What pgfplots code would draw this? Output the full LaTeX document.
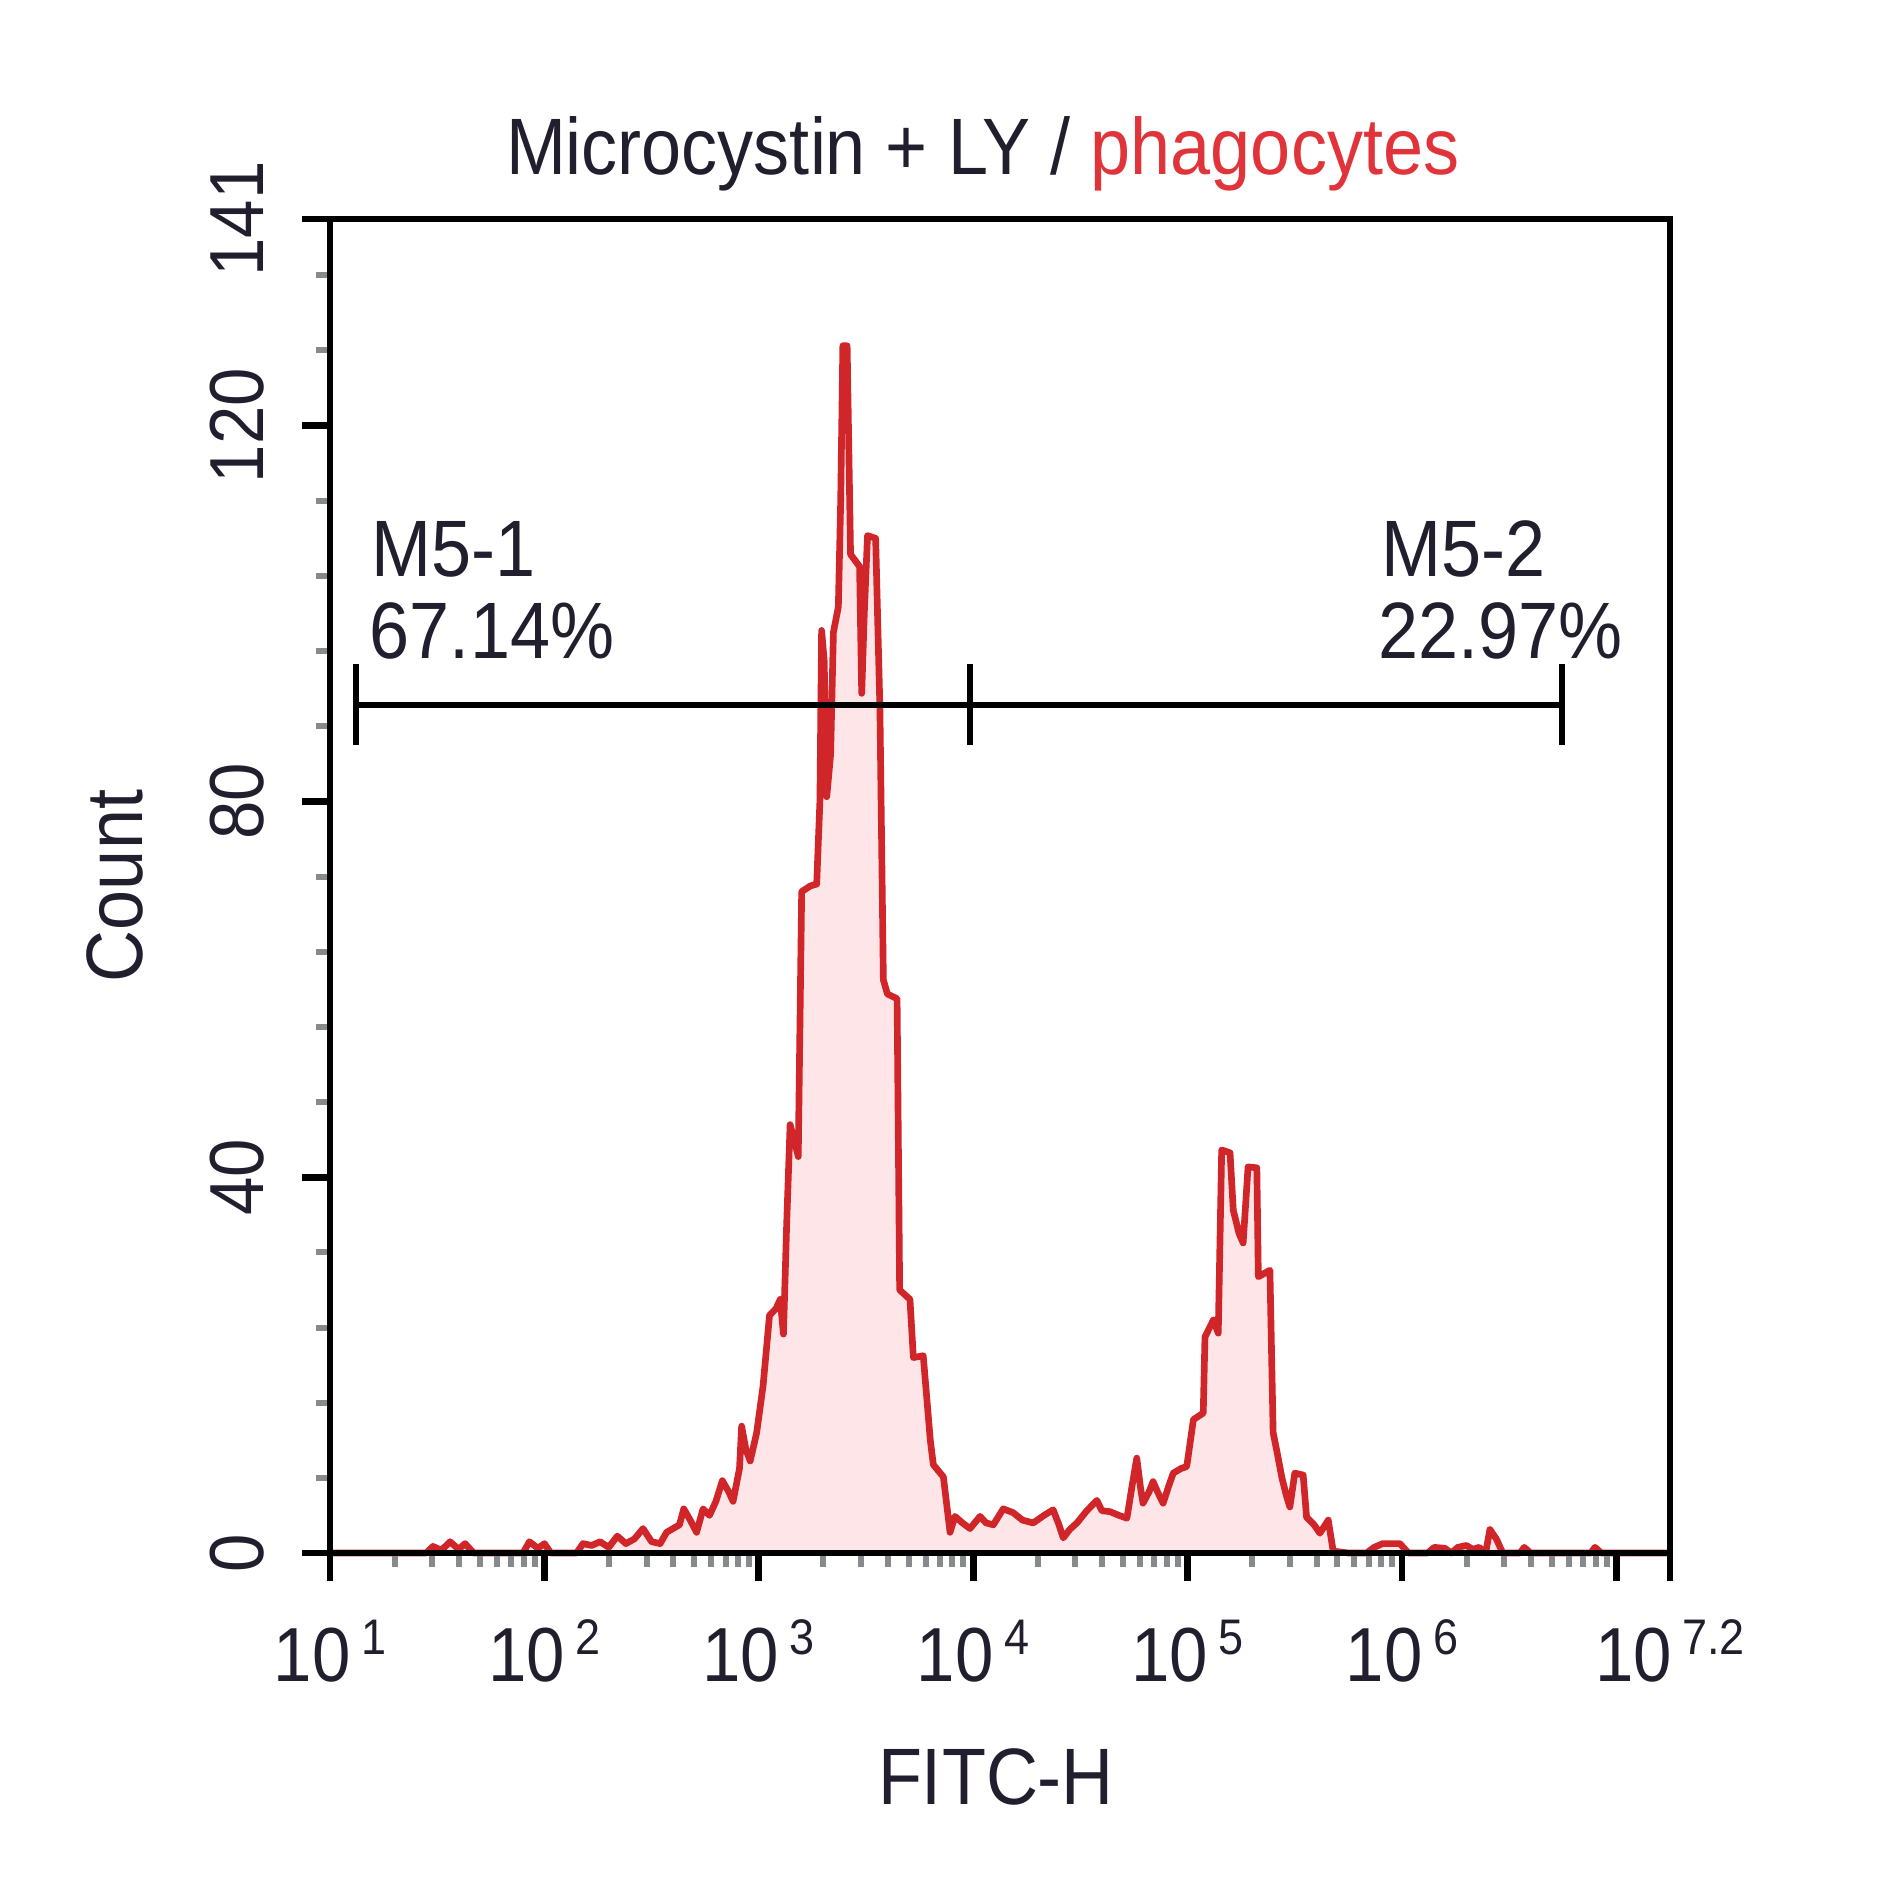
\documentclass[border=0pt]{standalone}
\usepackage{pgfplots}
\usepackage{pgfplotstable}
\pgfplotsset{compat=1.18}
\usepackage{fontspec}
\setmainfont{Liberation Sans}[FakeStretch=0.9]
\definecolor{txt}{RGB}{35,30,45}
\definecolor{curve}{RGB}{208,38,42}
\definecolor{fillc}{RGB}{253,229,232}
\definecolor{ttlred}{RGB}{224,52,58}
\definecolor{mtick}{RGB}{135,138,140}
\newcommand{\tl}[1]{10\hspace{1.6pt}\raisebox{4pt}{\fontsize{7.5}{8}\selectfont #1}}
\pgfplotstableread{
lx cnt
1.00 0
1.45 0
1.48 0.7
1.52 0.3
1.56 1.2
1.60 0.4
1.63 1.0
1.67 0
1.90 0
1.93 1.2
1.97 0.5
2.00 1.0
2.03 0
2.15 0
2.18 1.0
2.22 0.8
2.26 1.2
2.30 0.6
2.34 1.8
2.38 1.0
2.42 1.5
2.46 2.6
2.50 1.2
2.54 1.0
2.57 2.2
2.60 2.6
2.63 3.0
2.65 4.7
2.68 3.5
2.71 2.2
2.74 4.7
2.77 4.0
2.80 5.5
2.83 7.7
2.86 6.5
2.88 5.5
2.91 9.0
2.92 13.5
2.94 11.0
2.96 9.8
2.99 12.8
3.02 17.8
3.05 25.3
3.08 26.0
3.10 27.0
3.115 23.3
3.13 35.0
3.146 45.6
3.165 44.0
3.184 42.2
3.20 70.4
3.24 71.0
3.27 71.2
3.285 80.0
3.293 98.2
3.305 95.0
3.317 80.5
3.335 85.0
3.348 98.0
3.371 100.7
3.382 112.0
3.392 128.5
3.412 128.5
3.428 106.3
3.47 105.0
3.48 91.5
3.492 100.0
3.507 108.3
3.545 108.0
3.565 89.8
3.581 61.0
3.60 59.5
3.645 59.0
3.657 28.0
3.705 27.0
3.721 20.8
3.767 21.0
3.80 12.0
3.814 9.4
3.861 8.1
3.892 2.2
3.915 3.9
3.95 3.2
3.985 2.6
4.032 3.9
4.06 3.2
4.094 3.0
4.140 4.7
4.186 4.3
4.23 3.5
4.28 3.2
4.33 4.0
4.373 4.6
4.40 3.0
4.42 1.6
4.45 2.5
4.484 3.2
4.53 4.5
4.577 5.6
4.60 4.5
4.638 4.4
4.68 4.0
4.717 3.7
4.74 7.0
4.763 10.1
4.78 7.0
4.792 5.3
4.82 6.5
4.839 7.6
4.86 6.5
4.886 5.3
4.91 7.0
4.933 8.5
4.97 9.0
4.996 9.2
5.027 14.2
5.073 14.9
5.081 23.0
5.12 24.8
5.143 23.4
5.159 42.9
5.198 42.6
5.213 36.5
5.24 34.0
5.259 33.0
5.282 41.1
5.323 41.0
5.33 29.4
5.384 30.1
5.399 12.8
5.415 11.0
5.44 8.0
5.462 6.0
5.477 4.9
5.50 8.5
5.539 8.3
5.555 3.8
5.59 3.0
5.617 2.1
5.656 3.5
5.679 0.2
5.75 0
5.835 0
5.87 0.6
5.91 1.0
5.99 1.0
6.03 0
6.12 0
6.15 0.6
6.20 0.5
6.23 0
6.26 0.6
6.30 0.8
6.33 0.4
6.36 0.6
6.39 0
6.41 2.5
6.44 1.5
6.47 0
6.55 0
6.57 0.6
6.60 0
6.88 0
6.90 0.6
6.93 0
7.25 0
}\histdata
\begin{document}
\begin{tikzpicture}
\useasboundingbox (-49.5pt,-52.5pt) rectangle (231.9pt,232.95pt);
\begin{axis}[
  at={(0,0)}, anchor=south west,
  scale only axis, width=201pt, height=200.1pt,
  xmin=1, xmax=7.25, ymin=0, ymax=142,
  axis on top,
  axis line style={line width=1pt, black},
  tick align=outside, tick pos=left,
  major tick length=4.2pt, minor tick length=2.1pt,
  major tick style={line width=1pt, black},
  minor tick style={line width=0.9pt, mtick},
  xtick={1,2,3,4,5,6,7,7.25},
  xticklabels={\tl{1},\tl{2},\tl{3},\tl{4},\tl{5},\tl{6},{},\tl{7.2}},
  minor xtick={1.30103,1.47712,1.60206,1.69897,1.77815,1.84510,1.90309,1.95424,
               2.30103,2.47712,2.60206,2.69897,2.77815,2.84510,2.90309,2.95424,
               3.30103,3.47712,3.60206,3.69897,3.77815,3.84510,3.90309,3.95424,
               4.30103,4.47712,4.60206,4.69897,4.77815,4.84510,4.90309,4.95424,
               5.30103,5.47712,5.60206,5.69897,5.77815,5.84510,5.90309,5.95424,
               6.30103,6.47712,6.60206,6.69897,6.77815,6.84510,6.90309,6.95424},
  ytick={0,40,80,120,142},
  yticklabels={0,40,80,120,141},
  minor ytick={8,16,24,32,48,56,64,72,88,96,104,112,128,136},
  ticklabel style={font=\fontsize{11.5}{12}\selectfont, text=txt},
  xticklabel style={anchor=base, inner sep=0pt, yshift=-15pt},
  yticklabel style={rotate=90, anchor=south, inner xsep=0pt, inner ysep=5.5pt},
  xlabel={FITC-H}, ylabel={Count},
  label style={font=\fontsize{12}{13}\selectfont, text=txt},
  xlabel style={at={([yshift=-37.8pt]axis description cs:0.497,0)}, anchor=base, inner sep=0pt},
  ylabel style={at={([xshift=-32.3pt]axis description cs:0,0.5)}, anchor=center, rotate=0},
  clip=false,
]
\addplot[draw=none, fill=fillc] table[x=lx, y=cnt] {\histdata} \closedcycle;
\addplot[draw=curve, line width=1pt, line join=round] table[x=lx, y=cnt] {\histdata};
% gates
\addplot[black, line width=0.9pt] coordinates {(1.119,90.3) (6.746,90.3)};
\addplot[black, line width=0.9pt] coordinates {(1.119,86.0) (1.119,94.6)};
\addplot[black, line width=0.9pt] coordinates {(3.985,86.0) (3.985,94.6)};
\addplot[black, line width=0.9pt] coordinates {(6.746,86.0) (6.746,94.6)};
\node[anchor=base west, inner sep=0pt, text=txt, font=\fontsize{12}{13}\selectfont] at (axis cs:1.187,103.9) {M5-1};
\node[anchor=base west, inner sep=0pt, text=txt, font=\fontsize{12}{13}\selectfont] at (axis cs:1.180,95.2) {67.14\%};
\node[anchor=base west, inner sep=0pt, text=txt, font=\fontsize{12}{13}\selectfont] at (axis cs:5.900,103.9) {M5-2};
\node[anchor=base west, inner sep=0pt, text=txt, font=\fontsize{12}{13}\selectfont] at (axis cs:5.885,95.2) {22.97\%};
\node[anchor=base, inner sep=0pt, font=\fontsize{12}{13}\selectfont] at ([yshift=6.6pt]axis description cs:0.487,1) {\textcolor{txt}{Microcystin + LY /} \textcolor{ttlred}{phagocytes}};
\end{axis}
\end{tikzpicture}
\end{document}
